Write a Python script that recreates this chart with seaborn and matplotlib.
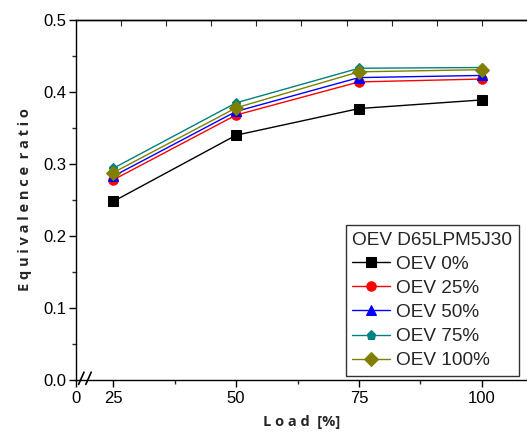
import numpy as np
import pandas as pd
import matplotlib
matplotlib.use("Agg")
import matplotlib.pyplot as plt
from matplotlib.ticker import MultipleLocator
import seaborn as sns

# Data
load = [25, 50, 75, 100]
oev_0 = [0.248, 0.340, 0.377, 0.389]
oev_25 = [0.278, 0.368, 0.414, 0.418]
oev_50 = [0.283, 0.373, 0.420, 0.423]
oev_75 = [0.294, 0.385, 0.433, 0.434]
oev_100 = [0.288, 0.378, 0.428, 0.431]

series_names = ["OEV 0%", "OEV 25%", "OEV 50%", "OEV 75%", "OEV 100%"]
series_values = [oev_0, oev_25, oev_50, oev_75, oev_100]
colors = ["black", "red", "blue", "#008080", "#808000"]
markers = ["s", "o", "^", "p", "D"]

x_ticks = [25, 50, 75, 100]
x_tick_labels = ["0", "25", "50", "75", "100"]
legend_title = "OEV D65LPM5J30"

sns.set_theme(style="ticks")
plt.rcParams["font.family"] = ["Liberation Sans", "DejaVu Sans"]

fig = plt.figure(figsize=(5.27, 4.44), dpi=100)
ax = fig.add_axes([0.144, 0.144, 0.856, 0.811])

df = pd.DataFrame({
    "load": np.tile(load, len(series_names)),
    "ratio": np.concatenate(series_values),
    "series": np.repeat(series_names, len(load)),
})

for name, col, mk in zip(series_names, colors, markers):
    sub = df[df["series"] == name]
    sns.lineplot(data=sub, x="load", y="ratio", color=col, marker=mk,
                 markersize=6.8, markeredgecolor=col, linewidth=1.0,
                 label=name, ax=ax)

x_min, x_max = 17.4, 109.2
ax.set_xlim(x_min, x_max)
ax.set_ylim(0.0, 0.5)
ax.set_xticks([x_min] + x_ticks)
ax.set_xticklabels(x_tick_labels)
ax.xaxis.set_minor_locator(matplotlib.ticker.FixedLocator([37.5, 62.5, 87.5]))
ax.yaxis.set_major_locator(MultipleLocator(0.1))
ax.yaxis.set_minor_locator(MultipleLocator(0.05))
ax.yaxis.set_major_formatter(matplotlib.ticker.FormatStrFormatter("%.1f"))

ax.tick_params(axis="both", which="major", direction="out", length=5, width=1,
               labelsize=12, colors="black", pad=2)
ax.tick_params(axis="both", which="minor", direction="out", length=3, width=1)
ax.tick_params(axis="x", which="major", pad=3)

for side in ["left", "bottom", "top"]:
    ax.spines[side].set_color("black")
    ax.spines[side].set_linewidth(1.0)
ax.spines["right"].set_visible(False)

# top axis ticks (inward, unlabeled)
top = ax.twiny()
top.set_xlim(0, 10)
top.set_xticks(range(1, 10))
top.tick_params(axis="x", direction="in", length=4, width=0.8, labeltop=False)
for side in ["left", "right", "bottom"]:
    top.spines[side].set_visible(False)
top.spines["top"].set_linewidth(1.0)
top.spines["top"].set_color("black")

# axis break marks
for dx in (0.006, 0.022):
    ax.plot([dx, dx + 0.012], [-0.012, 0.022], transform=ax.transAxes,
            color="black", linewidth=1.2, clip_on=False)

ax.set_xlabel("L o a d  [%]", fontsize=10.5, fontweight="bold",
              family=["Open Sans", "DejaVu Sans"], labelpad=6)
ax.set_ylabel("E q u i v a l e n c e  r a t i o", fontsize=10.5, fontweight="bold",
              family=["Open Sans", "DejaVu Sans"], labelpad=8)

leg = ax.legend(title=legend_title, loc="lower right",
                bbox_to_anchor=(0.982, 0.011), borderaxespad=0,
                fontsize=13.7, title_fontsize=13.7, frameon=True, fancybox=False,
                handlelength=2.0, handletextpad=0.3, labelspacing=0.36,
                borderpad=0.35, alignment="left")
leg.get_frame().set_edgecolor("black")
leg.get_frame().set_linewidth(1.0)

fig.savefig("out.png", dpi=100)
